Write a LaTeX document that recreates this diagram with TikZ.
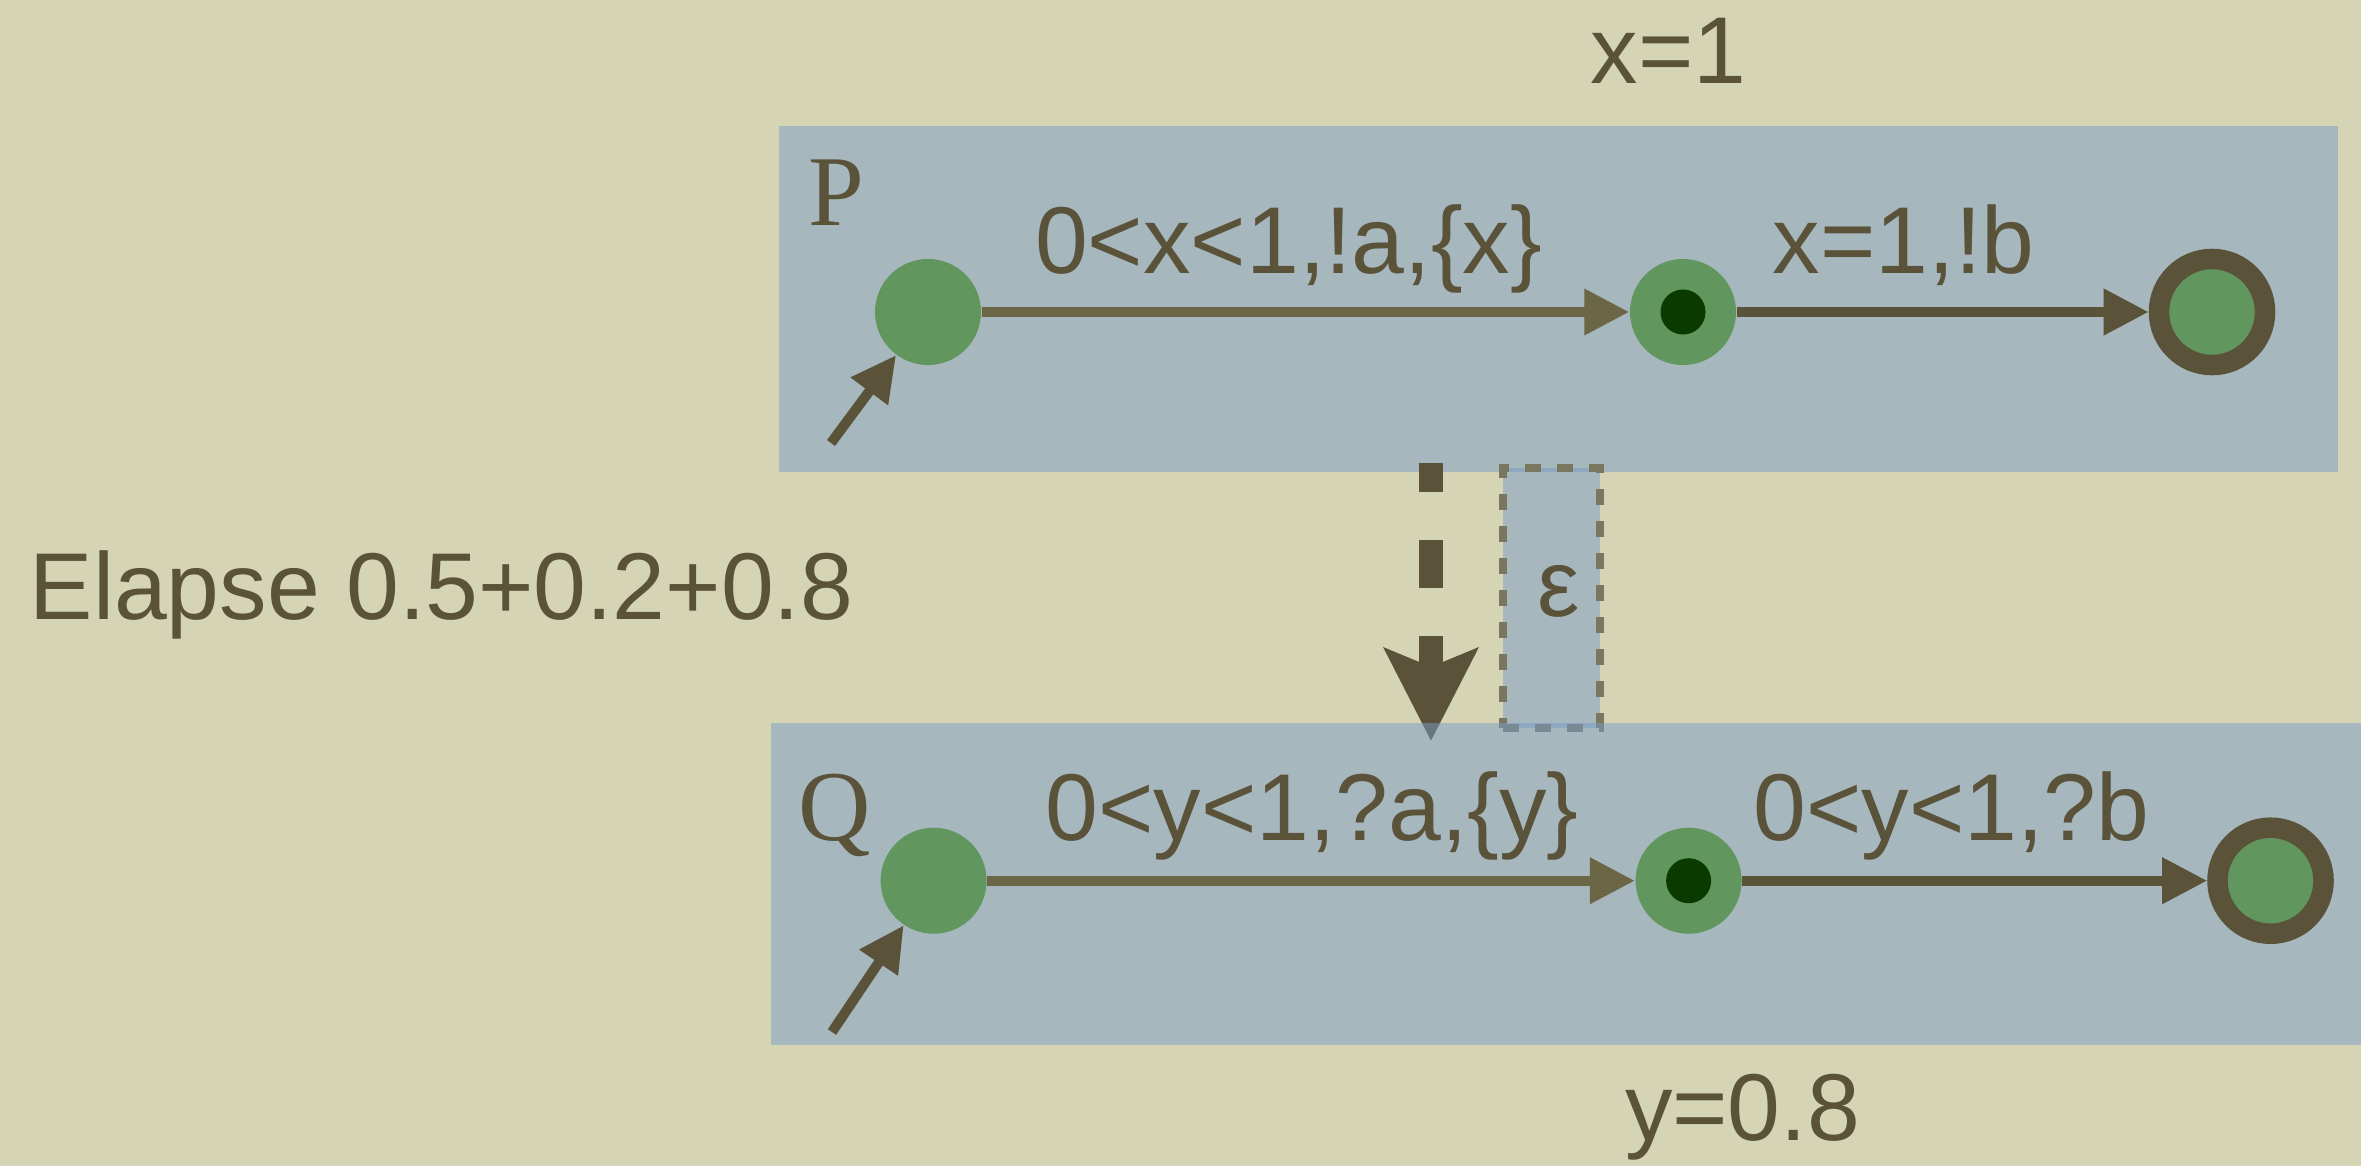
\documentclass[tikz,border=0pt]{standalone}
\usepackage{fontspec}
\setmainfont{Liberation Sans}
\newfontfamily\namefont{Liberation Serif}
\usepackage{xcolor}
\usepackage{tikz}
\usetikzlibrary{arrows.meta}

\definecolor{paper}{HTML}{D5D4B5}
\definecolor{panel}{HTML}{799CC7}
\definecolor{ink}{HTML}{5A533A}
\definecolor{inklight}{HTML}{6B6646}
\definecolor{leaf}{HTML}{62965F}
\definecolor{pit}{HTML}{0B3A00}
\definecolor{rim}{HTML}{7A7660}

\begin{document}
\begin{tikzpicture}[x=0.01cm, y=-0.01cm,
    lbl/.style={text=ink, anchor=base, inner sep=0pt, font=\fontsize{27}{32}\selectfont},
    tag/.style={text=ink, anchor=base west, inner sep=0pt, font=\namefont\fontsize{28.5}{34}\selectfont},
    region/.style={fill=panel, fill opacity=0.5, inner sep=0pt},
    loc/.style={circle, fill=leaf, minimum size=1.06cm, inner sep=0pt},
    mid/.style={loc, path picture={\fill[pit] (path picture bounding box.center) circle (0.225cm);}},
    goal/.style={loc, draw=ink, line width=0.205cm},
    trans/.style={line width=0.1cm, -{Triangle[length=4.5mm, width=4.4mm]}}]
    \useasboundingbox (0,0) rectangle (2361,1166);
    % Background
    \fill[paper] (0,0) rectangle (2361,1166);

    % Automaton P
    \node[region, minimum width=15.59cm, minimum height=3.46cm] (boxP) at (1558.5,299) {};
    \node[loc] (p0) at (928,312) {};
    \node[mid] (p1) at (1683,312) {};
    \node[goal] (p2) at (2212,312) {};
    \coordinate (p0in) at (831,443);
    \draw[trans, ink] (p0in) -- (p0);
    \draw[trans, inklight] (p0) -- (p1);
    \draw[trans, ink] (p1) -- (p2);
    \node[tag] (nameP) at (808,225) {P};
    \node[lbl] (gP1) at (1288.5,273) {0<x<1,!a,\{x\}};
    \node[lbl] (gP2) at (1903.6,273) {x=1,!b};
    \node[lbl] (clkP) at (1668.5,83) {x=1};

    % Silent step
    \coordinate (dtop) at (1431,463);
    \coordinate (dbot) at (1431,741);
    \draw[ink, line width=0.24cm, dash pattern=on 0.48cm off 0.48cm, dash phase=0.19cm,
        -{Stealth[length=9.2mm, width=9.2mm, inset=1.8mm]}] (dtop) -- (dbot);
    \node[region, draw=rim, line width=0.077cm, dash pattern=on 0.16cm off 0.16cm,
        minimum width=0.97cm, minimum height=2.6cm] (ebox) at (1551.5,598) {};
    \node[lbl] (eps) at (1559,616) {ε};
    \node[lbl] (elapse) at (441.5,619) {Elapse 0.5+0.2+0.8};

    % Automaton Q
    \node[region, minimum width=15.9cm, minimum height=3.22cm] (boxQ) at (1566,884) {};
    \node[loc] (q0) at (933.6,880.7) {};
    \node[mid] (q1) at (1688.6,880.7) {};
    \node[goal] (q2) at (2270.5,880.7) {};
    \coordinate (q0in) at (832,1032);
    \draw[trans, ink] (q0in) -- (q0);
    \draw[trans, inklight] (q0) -- (q1);
    \draw[trans, ink] (q1) -- (q2);
    \node[tag] (nameQ) at (798,840) {Q};
    \node[lbl] (gQ1) at (1312,840) {0<y<1,?a,\{y\}};
    \node[lbl] (gQ2) at (1951.5,840) {0<y<1,?b};
    \node[lbl] (clkQ) at (1742.5,1140) {y=0.8};
\end{tikzpicture}
\end{document}
